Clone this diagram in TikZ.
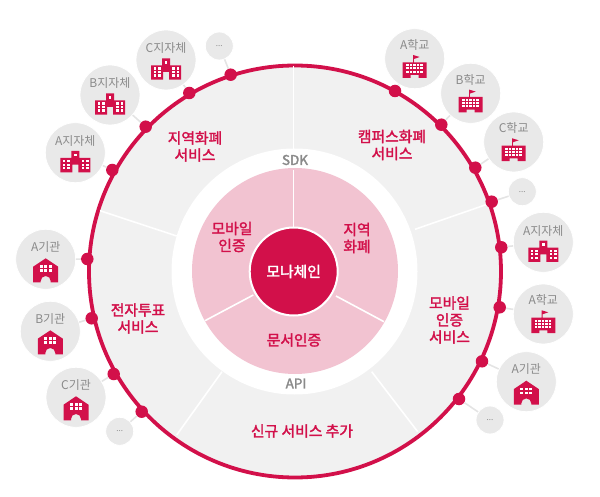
\documentclass[tikz,border=0pt]{standalone}
\usepackage{fontspec}
\setmainfont{Noto Sans CJK KR}
\newfontfamily\medf[FakeBold=2]{Noto Sans CJK KR}
\usetikzlibrary{calc}
\definecolor{crim}{HTML}{D2104A}
\definecolor{ringfill}{HTML}{F1F1F1}
\definecolor{entfill}{HTML}{E9E9E9}
\definecolor{pinkf}{HTML}{F2C3D1}
\definecolor{grayt}{HTML}{8A8A8A}
\definecolor{conn}{HTML}{E4E4E4}
\tikzset{
  x=1pt,y=-1pt,
  entity/.style={circle,fill=entfill,draw=white,line width=.8pt,minimum size=60pt,inner sep=0pt},
  small/.style={circle,fill=entfill,draw=white,line width=.8pt,minimum size=28pt,inner sep=0pt,text=grayt,font=\fontsize{8}{8}\selectfont},
  dot/.style={circle,fill=crim,minimum size=12.5pt,inner sep=0pt},
  entlabel/.style={text=grayt,font=\fontsize{12}{13}\selectfont,inner sep=0pt},
  svc/.style={text=crim,font=\medf\fontsize{14.8}{17}\selectfont,align=center,inner sep=0pt},
  api/.style={text=grayt,font=\medf\fontsize{13.5}{14}\selectfont,inner sep=0pt},
  divider/.style={white,line width=1.6pt},
  link/.style={conn,line width=1.6pt},
  pics/gov/.style={code={
    \fill[crim] (-15,5.3)--(-4,5.3)--(-4,-1.7)--(4,-1.7)--(4,5.3)--(15,5.3)--(15,19.7)--(3,19.7)--(3,12)--(-3,12)--(-3,19.7)--(-15,19.7)--cycle;
    \fill[white] (-1.4,1) rectangle (1.4,3.6);
    \foreach \xx in {-12.5,-8,6.2,10.7}{\foreach \yy in {7.5,11,14.5}{\fill[white] (\xx,\yy) rectangle (\xx+2.6,\yy+2.2);}}
  }},
  pics/school/.style={code={
    \fill[crim] (-1.6,-3.7)--(5,-1.7)--(-0.8,0.3)--(-0.8,3.6)--(12,3.6)--(12,19.2)--(4,19.2)--(4,16.3)--(-4,16.3)--(-4,19.2)--(-12,19.2)--(-12,3.6)--(-1.6,3.6)--cycle;
    \foreach \xx in {-8.5,-5,-1.5,2,5.5}{\foreach \yy in {5.6,8.8,12}{\fill[white] (\xx,\yy) rectangle (\xx+2.6,\yy+2);}}
  }},
  pics/inst/.style={code={
    \fill[crim] (0,-1)--(12.5,7.4)--(12.5,23)--(5,23)--(5,21.7) arc[start angle=0,end angle=-180,radius=5]--(-5,23)--(-12.5,23)--(-12.5,7.4)--cycle;
    \foreach \xx in {-6,-1.5,3}{\foreach \yy in {6,10}{\fill[white] (\xx,\yy) rectangle (\xx+3,\yy+2.6);}}
  }}
}
\newcommand{\ent}[8]{% id, cx, cy, label, icon, dx, dy, labeldy
  \node[entity] (c#1) at (#2,#3) {};
  \node[entlabel] (l#1) at (#2,#3+#8) {#4};
  \pic at (c#1) {#5};
  \node[dot] (d#1) at (#6,#7) {};
  \draw[link] (c#1) -- (d#1);
}
\newcommand{\more}[5]{%
  \node[small] (c#1) at (#2,#3) {...};
  \node[dot] (d#1) at (#4,#5) {};
  \draw[link] (c#1) -- (d#1);
}
\begin{document}
\begin{tikzpicture}
\useasboundingbox (0,0) rectangle (600,497);
\node[circle,fill=ringfill,draw=crim,line width=3.8pt,minimum size=412pt,inner sep=0pt] (ring) at (295,271.5) {};
\coordinate (t1) at (293.5,66); \coordinate (t2) at (293.5,150);
\coordinate (a1) at (100,210.7); \coordinate (a2) at (176.7,236);
\coordinate (b1) at (415,229.3); \coordinate (b2) at (488,204);
\coordinate (e1) at (222,371.7); \coordinate (e2) at (176.7,435);
\coordinate (f1) at (371.7,371.7); \coordinate (f2) at (417.7,431.7);
\draw[divider] (t1)--(t2); \draw[divider] (a1)--(a2); \draw[divider] (b1)--(b2);
\draw[divider] (e1)--(e2); \draw[divider] (f1)--(f2);
\node[circle,fill=white,minimum size=246pt,inner sep=0pt] (wdisc) at (294.5,271.5) {};
\node[circle,fill=pinkf,minimum size=206pt,inner sep=0pt] (pink) at (295,271) {};
\coordinate (p1) at (293.5,170); \coordinate (p2) at (293.5,228);
\coordinate (p3) at (205,320.7); \coordinate (p4) at (253.3,295);
\coordinate (p5) at (384,321.7); \coordinate (p6) at (336,296);
\draw[divider] (p1)--(p2); \draw[divider] (p3)--(p4); \draw[divider] (p5)--(p6);
\node[circle,fill=crim,draw=white,line width=2pt,minimum size=88pt,inner sep=0pt,text=white,font=\medf\fontsize{14.8}{15}\selectfont] (core) at (293.7,271.5) {모나체인};
\node[svc] (s1) at (232,237) {모바일\\인증};
\node[svc] (s2) at (357,238) {지역\\화폐};
\node[svc] (s3) at (294,340) {문서인증};
\node[api] (sdk) at (295,160) {SDK};
\node[api] (apit) at (296,383.5) {API};
\node[svc] (v1) at (195,146.5) {지역화폐\\서비스};
\node[svc] (v2) at (392,145) {캠퍼스화폐\\서비스};
\node[svc] (v3) at (138,318.5) {전자투표\\서비스};
\node[svc] (v4) at (449.5,320) {모바일\\인증\\서비스};
\node[svc] (v5) at (302,431) {신규 서비스 추가};
\ent{a}{75.3}{152.7}{A지자체}{gov}{112.3}{170}{-11.7}
\ent{b}{110}{95}{B지자체}{gov}{145.7}{126.7}{-11.7}
\ent{c}{166}{60}{C지자체}{gov}{189.3}{93}{-11.7}
\more{m1}{219.3}{46}{230.7}{74.7}
\ent{e}{414.7}{58.7}{A학교}{school}{395}{91}{-13.7}
\ent{f}{470.7}{93.3}{B학교}{school}{441.3}{124.7}{-13.7}
\ent{g}{513.7}{142}{C학교}{school}{475.3}{167.7}{-13.7}
\more{m2}{522.3}{191.7}{491.7}{201.7}
\ent{h}{543.3}{242.3}{A지자체}{gov}{501.3}{247.3}{-11.7}
\ent{i}{543.3}{314}{A학교}{school}{499.7}{307.3}{-13.7}
\ent{j}{526.3}{381.7}{A기관}{inst}{482}{361.3}{-12.7}
\more{m3}{490}{420}{459}{399}
\ent{k}{45.7}{259.3}{A기관}{inst}{87.3}{259}{-12.7}
\ent{n}{50.3}{331.3}{B기관}{inst}{91.7}{318.3}{-12.7}
\ent{o}{76}{397.3}{C기관}{inst}{113.7}{374}{-12.7}
\more{m4}{119.7}{431.3}{141.7}{411.7}
\end{tikzpicture}
\end{document}
